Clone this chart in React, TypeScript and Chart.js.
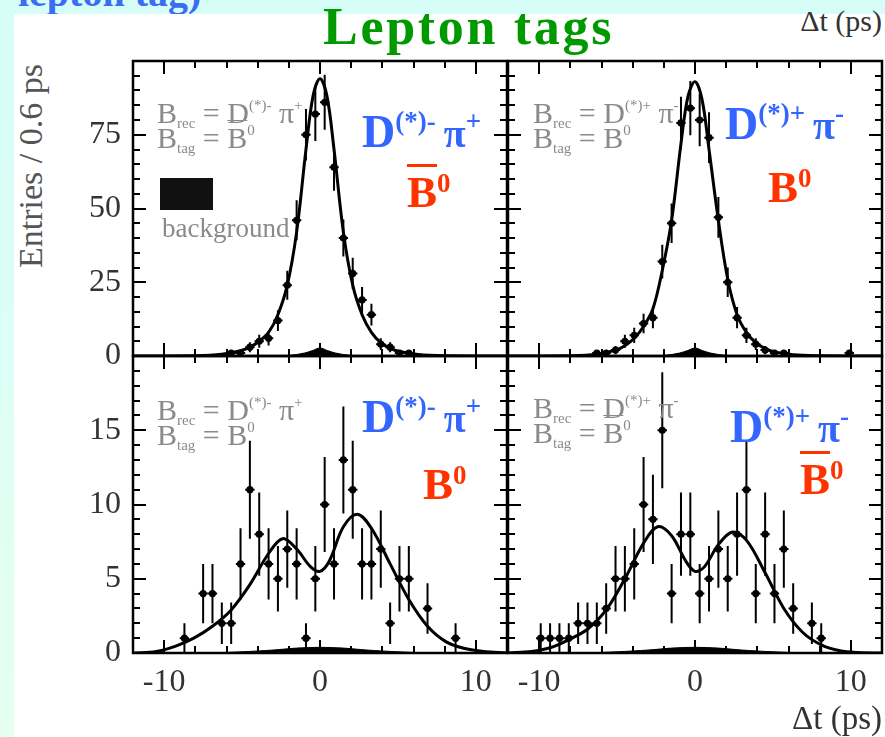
import React, { useEffect, useRef } from 'react';
import { Chart, registerables } from 'chart.js';

Chart.register(...registerables);
Chart.defaults.font.family = "'Liberation Serif', 'Times New Roman', serif";

// ---------------- data ----------------
const X_TICKS = [-10, 0, 10];
const TOP_Y_TICKS = [0, 25, 50, 75];
const BOT_Y_TICKS = [0, 5, 10, 15];

// top-left: B_rec = D(*)- pi+, B_tag = B0bar
const TL_DT = [-5.7, -5.1, -4.5, -3.9, -3.3, -2.7, -2.1, -1.5, -0.9, -0.3, 0.3, 0.9, 1.5, 2.1, 2.7, 3.3, 3.9, 4.5, 5.1, 5.7];
const TL_N = [1, 1, 3, 5, 6, 12, 24, 46, 75, 82, 86, 64, 40, 28, 19, 14, 4, 3, 1, 1];
const TL_ERR = [1, 1, 1.7, 2.2, 2.4, 3.5, 4.9, 6.8, 8.7, 9.1, 9.3, 8, 6.3, 5.3, 4.4, 3.7, 2, 1.7, 1, 1];

// top-right: B_rec = D(*)+ pi-, B_tag = B0
const TR_DT = [-6.3, -5.7, -5.1, -4.5, -3.9, -3.3, -2.7, -2.1, -1.5, -0.9, -0.3, 0.3, 0.9, 1.5, 2.1, 2.7, 3.3, 3.9, 4.5, 5.1, 5.7, 9.9];
const TR_N = [1, 1, 2, 5, 7, 11, 13, 32, 45, 79, 84, 80, 74, 47, 25, 13, 7, 4, 2, 1, 1, 1];
const TR_ERR = [1, 1, 1.4, 2.2, 2.6, 3.3, 3.6, 5.7, 6.7, 8.9, 9.2, 8.9, 8.6, 6.9, 5, 3.6, 2.6, 2, 1.4, 1, 1, 1];

// bottom-left: B_rec = D(*)- pi+, B_tag = B0
const BL_DT = [-8.7, -7.5, -6.9, -6.3, -5.7, -5.1, -4.5, -3.9, -3.3, -2.7, -2.1, -1.5, -0.9, -0.3, 0.3, 0.9, 1.5, 2.1, 2.7, 3.3, 3.9, 4.5, 5.1, 5.7, 6.9, 8.7];
const BL_N = [1, 4, 4, 2, 2, 6, 11, 8, 6, 5, 7, 6, 1, 5, 10, 6, 13, 11, 6, 6, 7, 2, 5, 5, 3, 1];
const BL_ERR = [1, 2, 2, 1.4, 1.4, 2.4, 3.3, 2.8, 2.4, 2.2, 2.6, 2.4, 1, 2.2, 3.2, 2.4, 3.6, 3.3, 2.4, 2.4, 2.6, 1.4, 2.2, 2.2, 1.7, 1];

// bottom-right: B_rec = D(*)+ pi-, B_tag = B0bar
const BR_DT = [-9.9, -9.3, -8.7, -8.1, -7.5, -6.9, -6.3, -5.7, -5.1, -4.5, -3.9, -3.3, -2.7, -2.1, -1.5, -0.9, -0.3, 0.3, 0.9, 1.5, 2.1, 2.7, 3.3, 3.9, 4.5, 5.1, 5.7, 6.3, 7.5, 8.1];
const BR_N = [1, 1, 1, 1, 2, 2, 2, 3, 5, 5, 6, 10, 9, 15, 4, 8, 8, 4, 5, 7, 5, 8, 11, 4, 8, 4, 7, 3, 2, 1];
const BR_ERR = [1, 1, 1, 1, 1.4, 1.4, 1.4, 1.7, 2.2, 2.2, 2.4, 3.2, 3, 3.9, 2, 2.8, 2.8, 2, 2.2, 2.6, 2.2, 2.8, 3.3, 2, 2.8, 2, 2.6, 1.7, 1.4, 1];

// fit curves
const TOP_FIT_X = [-12, -8, -6.3, -5.1, -4.5, -3.9, -3.3, -2.7, -2.1, -1.5, -0.9, -0.45, 0, 0.45, 0.9, 1.5, 2.1, 2.7, 3.3, 3.9, 4.5, 5.1, 6.3, 8, 12];
const TL_FIT = [0, 0.1, 0.6, 1.8, 3, 5, 8, 14, 24, 42, 70, 88, 94, 88, 70, 42, 24, 14, 8, 4.5, 2.6, 1.5, 0.5, 0.1, 0];
const TR_FIT = [0, 0.1, 0.6, 2, 3.5, 6, 10, 16, 29, 46, 72, 88, 93, 87, 70, 46, 26, 14, 8, 4.5, 2.5, 1.4, 0.4, 0.1, 0];
const BOT_FIT_X = [-12, -10.5, -9.3, -8.1, -6.9, -5.7, -4.5, -3.3, -2.4, -1.5, -0.6, 0, 0.6, 1.5, 2.4, 3.3, 4.5, 5.7, 6.9, 8.1, 9.3, 10.5, 12];
const BL_FIT = [0, 0.1, 0.45, 1.0, 1.8, 2.9, 4.6, 6.7, 7.7, 7.0, 5.8, 5.5, 6.2, 8.5, 9.35, 8.4, 6.0, 3.6, 1.8, 0.75, 0.3, 0.1, 0];
const BR_FIT = [0, 0.1, 0.35, 0.9, 1.6, 2.9, 5.0, 7.4, 8.5, 7.9, 6.2, 5.5, 5.8, 7.3, 8.15, 7.6, 5.4, 3.0, 1.4, 0.55, 0.15, 0.03, 0];

// background shapes
const TOP_BKG_X = [-3, -1.8, -1, -0.5, 0, 0.5, 1, 1.8, 3];
const TOP_BKG = [0, 0.3, 1, 1.8, 2.7, 1.8, 1, 0.3, 0];
const BOT_BKG_X = [-7, -5, -3, -1.5, 0, 1.5, 3, 5, 7];
const BOT_BKG = [0, 0.08, 0.2, 0.33, 0.38, 0.33, 0.2, 0.08, 0];

// ---------------- chart plumbing ----------------
const zip = (xs: number[], ys: number[]) => xs.map((x, i) => ({ x, y: ys[i] }));

const rootFrame = {
  id: 'rootFrame',
  afterDatasetsDraw(chart: any, _a: any, opts: any) {
    const { ctx, chartArea: a, scales } = chart;
    const xs = scales.x, ys = scales.y;
    ctx.save();
    ctx.beginPath();
    ctx.rect(a.left, a.top, a.right - a.left, a.bottom - a.top);
    ctx.clip();
    ctx.strokeStyle = '#000';
    ctx.lineWidth = 2;
    chart.data.datasets.forEach((ds: any) => {
      if (!ds.errors) return;
      ds.data.forEach((p: any, i: number) => {
        const e = ds.errors[i];
        const px = xs.getPixelForValue(p.x);
        const py = ys.getPixelForValue(p.y);
        ctx.beginPath();
        ctx.moveTo(px, ys.getPixelForValue(p.y - e));
        ctx.lineTo(px, ys.getPixelForValue(p.y + e));
        ctx.moveTo(xs.getPixelForValue(p.x - ds.halfBin), py);
        ctx.lineTo(xs.getPixelForValue(p.x + ds.halfBin), py);
        ctx.stroke();
      });
    });
    ctx.restore();

    ctx.save();
    ctx.strokeStyle = '#000';
    ctx.lineWidth = 2;
    const xMin = xs.min, xMax = xs.max, yMin = ys.min, yMax = ys.max;
    for (let v = xMin + opts.xMinor; v < xMax - 1e-6; v += opts.xMinor) {
      const major = Math.abs(v % opts.xMajor) < 1e-6;
      const len = major ? 13 : 7;
      const px = Math.round(xs.getPixelForValue(v));
      ctx.beginPath();
      ctx.moveTo(px, a.bottom); ctx.lineTo(px, a.bottom - len);
      ctx.moveTo(px, a.top); ctx.lineTo(px, a.top + len);
      ctx.stroke();
    }
    for (let v = yMin + opts.yMinor; v < yMax - 1e-6; v += opts.yMinor) {
      const major = Math.abs(v % opts.yMajor) < 1e-6;
      const len = major ? 13 : 7;
      const py = Math.round(ys.getPixelForValue(v));
      ctx.beginPath();
      ctx.moveTo(a.left, py); ctx.lineTo(a.left + len, py);
      ctx.moveTo(a.right, py); ctx.lineTo(a.right - len, py);
      ctx.stroke();
    }
    ctx.lineWidth = 2.5;
    ctx.strokeRect(a.left, a.top, a.right - a.left, a.bottom - a.top);
    ctx.restore();
  },
};

type PanelCfg = {
  left: number; top: number; width: number; height: number;
  pad: { top: number; bottom: number; left: number; right: number };
  showX: boolean; showY: boolean;
  yMax: number; yTicks: number[]; yMinor: number; yMajor: number;
  dt: number[]; n: number[]; err: number[];
  fitX: number[]; fit: number[]; bkgX: number[]; bkg: number[];
};

function Panel({ p }: { p: PanelCfg }) {
  const ref = useRef<HTMLCanvasElement>(null);
  useEffect(() => {
    const chart = new Chart(ref.current as HTMLCanvasElement, {
      type: 'scatter',
      data: {
        datasets: [
          {
            type: 'scatter',
            data: zip(p.dt, p.n),
            errors: p.err,
            halfBin: 0.3,
            pointRadius: 3.6,
            pointBackgroundColor: '#000',
            pointBorderColor: '#000',
            pointBorderWidth: 0,
          } as any,
          {
            type: 'line',
            data: zip(p.fitX, p.fit),
            borderColor: '#000',
            borderWidth: 3,
            pointRadius: 0,
            tension: 0.35,
            fill: false,
          } as any,
          {
            type: 'line',
            data: zip(p.bkgX, p.bkg),
            borderColor: '#000',
            backgroundColor: '#000',
            borderWidth: 1,
            pointRadius: 0,
            tension: 0.3,
            fill: 'origin',
          } as any,
        ],
      },
      options: {
        animation: false,
        responsive: false,
        maintainAspectRatio: false,
        events: [],
        layout: { padding: p.pad },
        plugins: {
          legend: { display: false },
          tooltip: { enabled: false },
          rootFrame: { xMinor: 2, xMajor: 10, yMinor: p.yMinor, yMajor: p.yMajor },
        } as any,
        scales: {
          x: {
            type: 'linear',
            min: -12,
            max: 12,
            display: p.showX,
            grid: { display: false, drawTicks: false },
            border: { display: false },
            ticks: { color: '#333', font: { size: 32 }, padding: 10, maxRotation: 0 },
            afterBuildTicks: (s: any) => { s.ticks = X_TICKS.map((v) => ({ value: v })); },
            afterFit: (s: any) => { s.height = p.showX ? 50 : 0; s.paddingLeft = 0; s.paddingRight = 0; },
          },
          y: {
            type: 'linear',
            min: 0,
            max: p.yMax,
            display: p.showY,
            grid: { display: false, drawTicks: false },
            border: { display: false },
            ticks: { color: '#333', font: { size: 32 }, padding: 12 },
            afterBuildTicks: (s: any) => { s.ticks = p.yTicks.map((v) => ({ value: v })); },
            afterFit: (s: any) => { s.width = p.showY ? 70 : 0; s.paddingTop = 0; s.paddingBottom = 0; },
          },
        },
      },
      plugins: [rootFrame as any],
    });
    return () => chart.destroy();
  }, []);
  return (
    <canvas
      ref={ref}
      width={p.width}
      height={p.height}
      style={{ position: 'absolute', left: p.left, top: p.top, width: p.width, height: p.height }}
    />
  );
}

const PANELS: PanelCfg[] = [
  {
    left: 63, top: 41, width: 454, height: 335, pad: { top: 20, bottom: 20, left: 0, right: 10 },
    showX: false, showY: true, yMax: 100, yTicks: TOP_Y_TICKS, yMinor: 5, yMajor: 25,
    dt: TL_DT, n: TL_N, err: TL_ERR, fitX: TOP_FIT_X, fit: TL_FIT, bkgX: TOP_BKG_X, bkg: TOP_BKG,
  },
  {
    left: 498, top: 41, width: 394, height: 335, pad: { top: 20, bottom: 20, left: 10, right: 10 },
    showX: false, showY: false, yMax: 100, yTicks: TOP_Y_TICKS, yMinor: 5, yMajor: 25,
    dt: TR_DT, n: TR_N, err: TR_ERR, fitX: TOP_FIT_X, fit: TR_FIT, bkgX: TOP_BKG_X, bkg: TOP_BKG,
  },
  {
    left: 63, top: 336, width: 454, height: 367, pad: { top: 20, bottom: 0, left: 0, right: 10 },
    showX: true, showY: true, yMax: 20, yTicks: BOT_Y_TICKS, yMinor: 1, yMajor: 5,
    dt: BL_DT, n: BL_N, err: BL_ERR, fitX: BOT_FIT_X, fit: BL_FIT, bkgX: BOT_BKG_X, bkg: BOT_BKG,
  },
  {
    left: 498, top: 336, width: 394, height: 367, pad: { top: 20, bottom: 0, left: 10, right: 10 },
    showX: true, showY: false, yMax: 20, yTicks: BOT_Y_TICKS, yMinor: 1, yMajor: 5,
    dt: BR_DT, n: BR_N, err: BR_ERR, fitX: BOT_FIT_X, fit: BR_FIT, bkgX: BOT_BKG_X, bkg: BOT_BKG,
  },
];

// ---------------- text overlays ----------------
const SERIF = "'Liberation Serif', 'Times New Roman', serif";

function Txt(props: { x: number; base: number; size: number; color: string; bold?: boolean; children: any }) {
  const { x, base, size, color, bold, children } = props;
  return (
    <div
      style={{
        position: 'absolute', left: x, top: base - 0.8375 * size, fontSize: size, lineHeight: `${size}px`,
        color, fontWeight: bold ? 'bold' : 'normal', fontFamily: SERIF, whiteSpace: 'nowrap',
      }}
    >
      {children}
    </div>
  );
}

function Up(props: { s: number; dy: number; children: any }) {
  return <span style={{ fontSize: props.s, position: 'relative', top: -props.dy }}>{props.children}</span>;
}

const bar = { textDecoration: 'overline', textDecorationThickness: '3px' } as any;
const thinBar = { textDecoration: 'overline', textDecorationThickness: '1px' } as any;

function GrayLabel(props: { x: number; base: number; rec: string; pi: string; barTag: boolean }) {
  const { x, base, rec, pi, barTag } = props;
  const c = '#8a8a8a';
  return (
    <>
      <Txt x={x} base={base} size={30} color={c}>
        B<Up s={15} dy={-5}>rec</Up> = D<Up s={15} dy={13}>(*){rec === 'm' ? '-' : '+'}</Up> π<Up s={15} dy={13}>{pi}</Up>
      </Txt>
      <Txt x={x} base={base + 25} size={30} color={c}>
        B<Up s={15} dy={-5}>tag</Up> = <span style={barTag ? thinBar : undefined}>B</span><Up s={15} dy={13}>0</Up>
      </Txt>
    </>
  );
}

function BlueLabel(props: { x: number; base: number; sign: string; pi: string }) {
  return (
    <Txt x={props.x} base={props.base} size={46} color="#3366ff" bold>
      D<Up s={27} dy={17}>(*){props.sign}</Up>
      <span style={{ fontSize: 40, marginLeft: 8 }}>π</span>
      <Up s={27} dy={17}>{props.pi}</Up>
    </Txt>
  );
}

function RedLabel(props: { x: number; base: number; barred: boolean }) {
  return (
    <Txt x={props.x} base={props.base} size={45} color="#ff3300" bold>
      <span style={props.barred ? bar : undefined}>B</span>
      <Up s={27} dy={15}>0</Up>
    </Txt>
  );
}

export default function App() {
  return (
    <div
      style={{
        position: 'fixed', left: 0, top: 0, width: 885, height: 737, overflow: 'hidden',
        background: 'linear-gradient(#d6fdf8, #e4fff0)', fontFamily: SERIF,
      }}
    >
      <Txt x={18} base={6} size={40} color="#3a6df0" bold>lepton tag)</Txt>
      <div style={{ position: 'absolute', left: 14, top: 14, right: 0, bottom: 0, background: '#fff' }} />

      {PANELS.map((p, i) => <Panel key={i} p={p} />)}

      <Txt x={323} base={45} size={52} color="#009900" bold>
        <span style={{ letterSpacing: 2.7 }}>Lepton tags</span>
      </Txt>
      <div style={{ position: 'absolute', right: 3, top: 31 - 0.8375 * 30, fontSize: 30, lineHeight: '30px', color: '#333', fontFamily: SERIF }}>Δt (ps)</div>
      <div style={{ position: 'absolute', right: 3, top: 730 - 0.8375 * 33, fontSize: 33, lineHeight: '33px', color: '#333', fontFamily: SERIF }}>Δt (ps)</div>
      <div
        style={{
          position: 'absolute', left: 31, top: 166, transform: 'translate(-50%, -50%) rotate(-90deg)',
          fontSize: 34, lineHeight: '34px', color: '#555', whiteSpace: 'nowrap', fontFamily: SERIF,
        }}
      >
        Entries / 0.6 ps
      </div>

      {/* panel annotations */}
      <GrayLabel x={157} base={123} rec="m" pi="+" barTag={true} />
      <div style={{ position: 'absolute', left: 160, top: 178, width: 53, height: 32, background: '#111' }} />
      <Txt x={162} base={238} size={27} color="#8a8a8a">background</Txt>
      <BlueLabel x={362} base={148} sign="-" pi="+" />
      <RedLabel x={407} base={208} barred={true} />

      <GrayLabel x={533} base={123} rec="p" pi="-" barTag={false} />
      <BlueLabel x={725} base={140} sign="+" pi="-" />
      <RedLabel x={768} base={203} barred={false} />

      <GrayLabel x={157} base={420} rec="m" pi="+" barTag={false} />
      <BlueLabel x={362} base={433} sign="-" pi="+" />
      <RedLabel x={423} base={500} barred={false} />

      <GrayLabel x={533} base={418} rec="p" pi="-" barTag={true} />
      <BlueLabel x={730} base={443} sign="+" pi="-" />
      <RedLabel x={800} base={495} barred={true} />
    </div>
  );
}
